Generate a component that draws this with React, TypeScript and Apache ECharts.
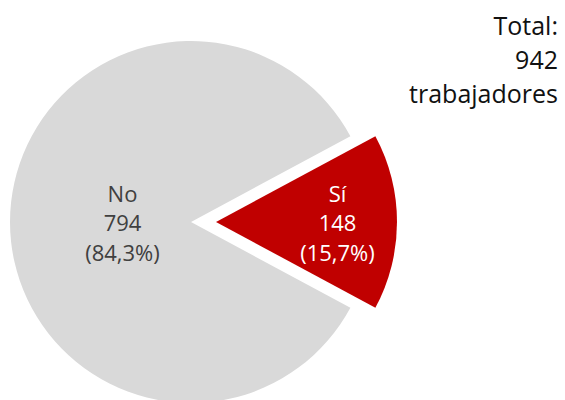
import React, { useEffect, useRef } from "react";
import * as echarts from "echarts";

const categories = ["Sí", "No"];
const values = [148, 794];
const colors = ["#C00000", "#D9D9D9"];
const labelColors = ["#FFFFFF", "#404040"];
const totalLines = ["Total:", "942", "trabajadores"];

export default function App() {
  const ref = useRef<HTMLDivElement>(null);
  useEffect(() => {
    if (!ref.current) return;
    const chart = echarts.init(ref.current, null, { renderer: "svg" });
    const total = values.reduce((a, b) => a + b, 0);
    const startAngle = (values[0] / total) * 180;
    const pads = [
      [0, 0, 6, 56],
      [6, 0, 0, 50],
    ];
    chart.setOption({
      animation: false,
      graphic: [
        {
          type: "text",
          x: 558,
          y: 8,
          style: {
            text: totalLines.join("\n"),
            font: "25px 'Open Sans'",
            fill: "#111111",
            textAlign: "right",
            textVerticalAlign: "top",
            lineHeight: 34,
          },
        },
      ],
      series: [
        {
          type: "pie",
          center: [191, 222],
          radius: 181,
          startAngle,
          clockwise: true,
          selectedMode: "single",
          selectedOffset: 25,
          avoidLabelOverlap: false,
          emphasis: { disabled: true },
          labelLine: { show: false },
          data: categories.map((name, i) => ({
            name,
            value: values[i],
            selected: i === 0,
            itemStyle: { color: colors[i] },
            label: {
              show: true,
              position: "inside",
              color: labelColors[i],
              fontFamily: "Open Sans",
              fontSize: 22,
              lineHeight: 29.5,
              padding: pads[i],
              formatter: (p: any) =>
                `${p.name}\n${p.value}\n(${p.percent.toFixed(1).replace(".", ",")}%)`,
            },
          })),
        },
      ],
    });
    return () => chart.dispose();
  }, []);
  return (
    <div
      ref={ref}
      style={{ position: "fixed", left: 0, top: 0, width: 565, height: 400, background: "#fff" }}
    />
  );
}
